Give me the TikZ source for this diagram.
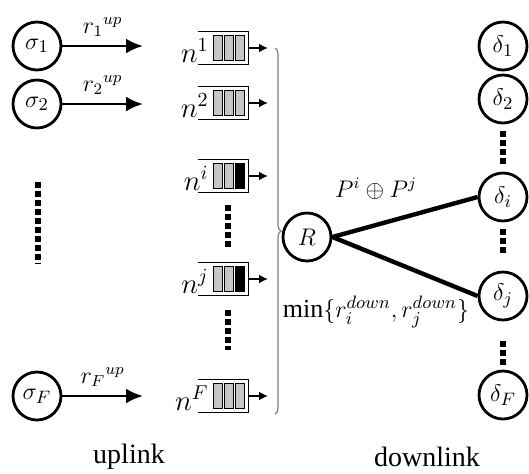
\documentclass[tikz,border=0pt]{standalone}
\usepackage{fontspec}
\setmainfont{Liberation Serif}
\usetikzlibrary{arrows.meta,decorations.pathreplacing,positioning}
\tikzset{
	user/.style = {draw, circle, line width=1.4pt, minimum size=24pt, inner sep=0pt, font=\fontsize{12.5}{14}\selectfont},
	cell/.style = {draw, line width=0.5pt, minimum width=4.5pt, minimum height=12.5pt, inner sep=0pt},
	qbox/.style = {minimum width=25pt, minimum height=16pt, inner sep=0pt},
	uparrow/.style = {line width=1.4pt, -{Latex[length=8.5pt,width=7.5pt]}},
	qarrow/.style = {line width=1pt, -{Latex[length=4.5pt,width=4.5pt]}},
	link/.style = {line width=2.2pt},
	dots/.style = {line width=3pt, dash pattern=on 3pt off 1.5pt},
	lbl/.style = {inner sep=1pt, font=\fontsize{12}{14}\selectfont}
}

\begin{document}
\begin{tikzpicture}[x=0.5pt,y=-0.5pt]
	\useasboundingbox (0,0) rectangle (529,473);
	% sources and uplink rates
	\node [user] (s1) at (37,46) {$\sigma_1$};
	\node [user] (s2) at (37,104) {$\sigma_2$};
	\node [user] (sF) at (37,396) {$\sigma_F$};
	\coordinate (t1) at (143,46);
	\coordinate (t2) at (143,104);
	\coordinate (tF) at (143,396);
	\draw [uparrow] (s1) -- node[lbl, above=3pt]{$r_1{}^{up}$} (t1);
	\draw [uparrow] (s2) -- node[lbl, above=3pt]{$r_2{}^{up}$} (t2);
	\draw [uparrow] (sF) -- node[lbl, above=3pt]{$r_F{}^{up}$} (tF);
	\draw [dots] (38,182) -- (38,264);

	% buffers at the relay
	\foreach \q/\y/\c in {1/48/gray!45, 2/103/gray!45, i/176/black, j/279/black, F/396/gray!45} {
		\node [qbox] (q\q) at (223,\y) {};
		\draw [line width=0.7pt] (q\q.north west) -- (q\q.north east) -- (q\q.south east) -- (q\q.south west);
		\node [cell, fill=gray!45] (c\q a) at (217.5,\y) {};
		\node [cell, fill=gray!45] (c\q b) at (228.5,\y) {};
		\node [cell, fill=\c] (c\q c) at (239.5,\y) {};
		\node [anchor=base east, inner sep=0pt, font=\fontsize{14}{16}\selectfont] (n\q) at (209,\y+14) {$n^{\q}$};
		\coordinate (e\q) at (268,\y);
		\draw [qarrow] (q\q.east) -- (e\q);
	}
	\draw [dots] (228,205) -- (228,247);
	\draw [dots] (228,310) -- (228,350);
	\draw [gray, line width=0.6pt, decorate, decoration={brace, amplitude=3pt}] (275,48) -- (275,414);

	% relay and destinations
	\node [user] (R) at (307,237) {$R$};
	\node [user] (d1) at (503,46) {$\delta_1$};
	\node [user] (d2) at (503,99) {$\delta_2$};
	\node [user] (di) at (503,197) {$\delta_i$};
	\node [user] (dj) at (503,296) {$\delta_j$};
	\node [user] (dF) at (503,395) {$\delta_F$};
	\draw [link] (R.east) -- (di.west);
	\draw [link] (R.east) -- (dj.west);
	\draw [dots, shorten <=3.5pt, shorten >=2.5pt] (d2.south) -- (di.north);
	\draw [dots, shorten <=3.5pt, shorten >=8pt] (di.south) -- (dj.north);
	\draw [dots, shorten <=10pt, shorten >=2pt] (dj.south) -- (dF.north);
	\node [lbl] (pij) at (376,189) {$P^i\oplus P^j$};
	\node [lbl, font=\fontsize{13}{15}\selectfont] (mn) at (376,312) {$\min\{r_i^{down}{,}\,r_j^{down}\}$};

	\node [font=\fontsize{14}{16}\selectfont] (up) at (129,457) {uplink};
	\node [font=\fontsize{14}{16}\selectfont] (down) at (427,457) {downlink};
\end{tikzpicture}
\end{document}
